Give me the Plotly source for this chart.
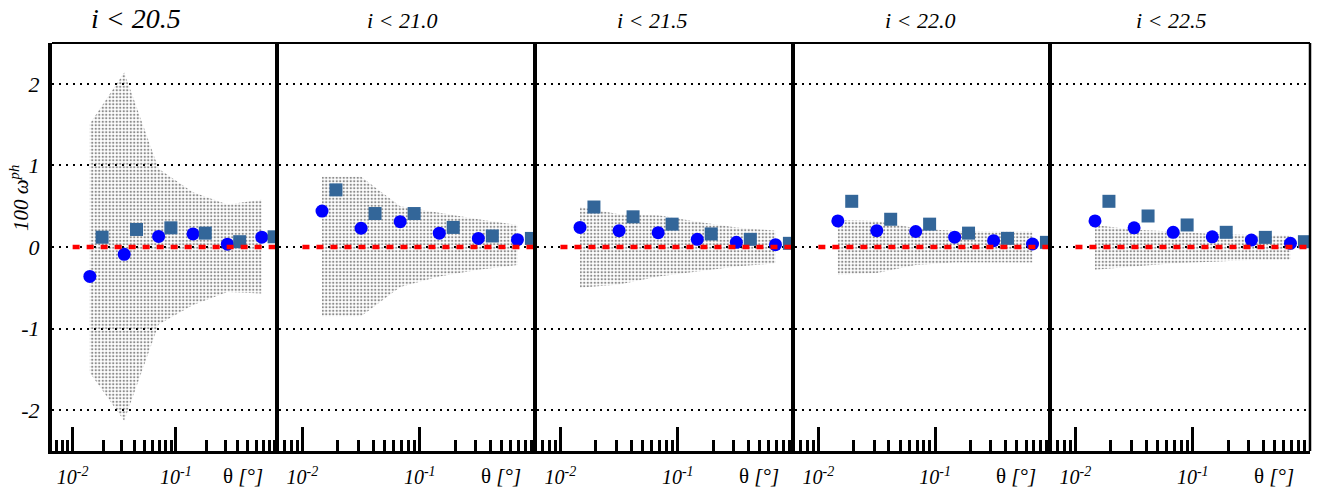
import plotly.graph_objects as go

# Angular bins (degrees): bin centres and the slightly shifted positions of the second estimator
theta_bins = [0.01468, 0.03162, 0.06813, 0.1468, 0.3162, 0.6813]
theta_shift = [0.0193, 0.0416, 0.0896, 0.193, 0.416, 0.896]

mag_cuts = ["20.5", "21.0", "21.5", "22.0", "22.5"]

# 100 * w_ph, first estimator (circles), one list per magnitude cut
w_dots_205 = [-0.36, -0.09, 0.13, 0.16, 0.035, 0.12]
w_dots_210 = [0.44, 0.23, 0.31, 0.17, 0.105, 0.09]
w_dots_215 = [0.24, 0.20, 0.175, 0.094, 0.057, 0.028]
w_dots_220 = [0.32, 0.20, 0.19, 0.12, 0.077, 0.037]
w_dots_225 = [0.32, 0.235, 0.18, 0.125, 0.085, 0.045]

# 100 * w_ph, second estimator (squares)
w_squares_205 = [0.12, 0.215, 0.235, 0.17, 0.065, 0.125]
w_squares_210 = [0.70, 0.41, 0.41, 0.24, 0.135, 0.105]
w_squares_215 = [0.49, 0.37, 0.28, 0.16, 0.094, 0.045]
w_squares_220 = [0.56, 0.34, 0.28, 0.17, 0.106, 0.057]
w_squares_225 = [0.56, 0.38, 0.27, 0.18, 0.118, 0.065]

# Uncertainty envelope (upper / lower edge) at the bin centres
band_hi_205 = [1.51, 2.14, 0.96, 0.67, 0.52, 0.58]
band_lo_205 = [-1.54, -2.13, -0.95, -0.71, -0.55, -0.57]
band_hi_210 = [0.86, 0.86, 0.50, 0.42, 0.34, 0.27]
band_lo_210 = [-0.85, -0.85, -0.49, -0.36, -0.28, -0.22]
band_hi_215 = [0.49, 0.40, 0.39, 0.31, 0.24, 0.20]
band_lo_215 = [-0.50, -0.46, -0.36, -0.30, -0.24, -0.20]
band_hi_220 = [0.33, 0.32, 0.23, 0.195, 0.19, 0.19]
band_lo_220 = [-0.34, -0.32, -0.22, -0.19, -0.19, -0.19]
band_hi_225 = [0.27, 0.21, 0.19, 0.16, 0.146, 0.14]
band_lo_225 = [-0.28, -0.24, -0.20, -0.18, -0.16, -0.16]

w_dots = [w_dots_205, w_dots_210, w_dots_215, w_dots_220, w_dots_225]
w_squares = [w_squares_205, w_squares_210, w_squares_215, w_squares_220, w_squares_225]
band_hi = [band_hi_205, band_hi_210, band_hi_215, band_hi_220, band_hi_225]
band_lo = [band_lo_205, band_lo_210, band_lo_215, band_lo_220, band_lo_225]

y_ticks = [-2, -1, 0, 1, 2]
y_tick_text = ["-2", "-1", "0", "1", "2"]
x_major = [0.01, 0.1]
x_major_text = ["10<sup>-2</sup>", "10<sup>-1</sup>"]
x_minor = [m * 10.0 ** k for k in (-3, -2, -1) for m in range(2, 10)]

W, H = 1321, 495
panel_px = [(52, 279), (279, 537), (537, 795), (795, 1052), (1052, 1310)]
y_dom = [1 - 451 / H, 1 - 43 / H]

SERIF = "Liberation Serif, Times New Roman, DejaVu Serif, serif"
ital = dict(family=SERIF, color="black", style="italic")

fig = go.Figure()
layout = dict(
    width=W, height=H, margin=dict(l=0, r=0, t=0, b=0),
    paper_bgcolor="white", plot_bgcolor="white", showlegend=False,
    font=dict(family=SERIF, color="black"),
)

for k in range(5):
    sfx = "" if k == 0 else str(k + 1)
    xa, ya = "x" + sfx, "y" + sfx
    a, b = panel_px[k]

    layout["xaxis" + sfx] = dict(
        type="log", range=[-2.2, 0], domain=[a / W, b / W], anchor=ya,
        showline=True, linewidth=3, linecolor="black",
        ticks="inside", ticklen=24, tickwidth=3, tickcolor="black",
        tickvals=x_major, ticktext=x_major_text,
        tickfont=dict(size=20, **ital), ticklabelstandoff=6,
        showgrid=False, zeroline=False,
        minor=dict(ticks="inside", ticklen=11, tickwidth=3, tickcolor="black",
                   tickvals=x_minor, showgrid=False),
    )
    layout["yaxis" + sfx] = dict(
        range=[-2.5, 2.5], domain=y_dom, anchor=xa,
        showline=True, linewidth=4, linecolor="black",
        tickvals=y_ticks, ticktext=y_tick_text, ticks="",
        showticklabels=(k == 0), tickfont=dict(size=22, **ital),
        ticklabelstandoff=4,
        showgrid=True, gridcolor="black", gridwidth=2, griddash="2px,5px",
        zeroline=False,
    )

    # shaded envelope
    fig.add_trace(go.Scatter(
        x=theta_bins + theta_bins[::-1],
        y=band_hi[k] + band_lo[k][::-1],
        xaxis=xa, yaxis=ya, mode="lines", line=dict(width=0),
        fill="toself", fillcolor="rgba(0,0,0,0)",
        fillpattern=dict(shape=".", fgcolor="#1a1a1a", bgcolor="rgba(0,0,0,0)",
                         size=3.5, solidity=0.35),
        hoverinfo="skip",
    ))
    fig.add_trace(go.Scatter(
        x=theta_bins, y=w_dots[k], xaxis=xa, yaxis=ya, mode="markers",
        marker=dict(symbol="circle", size=13, color="#0000ff", line=dict(width=0)),
    ))
    fig.add_trace(go.Scatter(
        x=theta_shift, y=w_squares[k], xaxis=xa, yaxis=ya, mode="markers",
        marker=dict(symbol="square", size=13, color="#336699", line=dict(width=0)),
    ))
    # zero reference line
    fig.add_trace(go.Scatter(
        x=[0.01, 1.0], y=[0, 0], xaxis=xa, yaxis=ya, mode="lines",
        line=dict(color="#ff0000", width=4.5, dash="7px,7px"),
    ))

annotations = []
title_x = [136, 402, 652, 920, 1171]
for k in range(5):
    annotations.append(dict(
        text="i < " + mag_cuts[k], xref="paper", yref="paper",
        x=title_x[k] / W, y=1 - (18 if k == 0 else 20) / H,
        xanchor="center", yanchor="middle", showarrow=False,
        font=dict(size=28 if k == 0 else 22, **ital),
    ))
    annotations.append(dict(
        text="θ <i>[°]</i>", xref="paper", yref="paper",
        x=(panel_px[k][1] - 36) / W, y=1 - 476 / H,
        xanchor="center", yanchor="middle", showarrow=False,
        font=dict(size=21, family=SERIF, color="black"),
    ))
annotations.append(dict(
    text="100 ω<sup>ph</sup>", xref="paper", yref="paper",
    x=19 / W, y=1 - 198 / H, textangle=-90,
    xanchor="center", yanchor="middle", showarrow=False,
    font=dict(size=21, **ital),
))
layout["annotations"] = annotations

layout["shapes"] = [
    dict(type="line", xref="paper", yref="paper",
         x0=52 / W, x1=1310 / W, y0=y_dom[1], y1=y_dom[1],
         line=dict(color="black", width=2)),
    dict(type="line", xref="paper", yref="paper",
         x0=1310 / W, x1=1310 / W, y0=y_dom[0], y1=y_dom[1],
         line=dict(color="black", width=2.5)),
]

fig.update_layout(**layout)
fig.write_html("out.html")
